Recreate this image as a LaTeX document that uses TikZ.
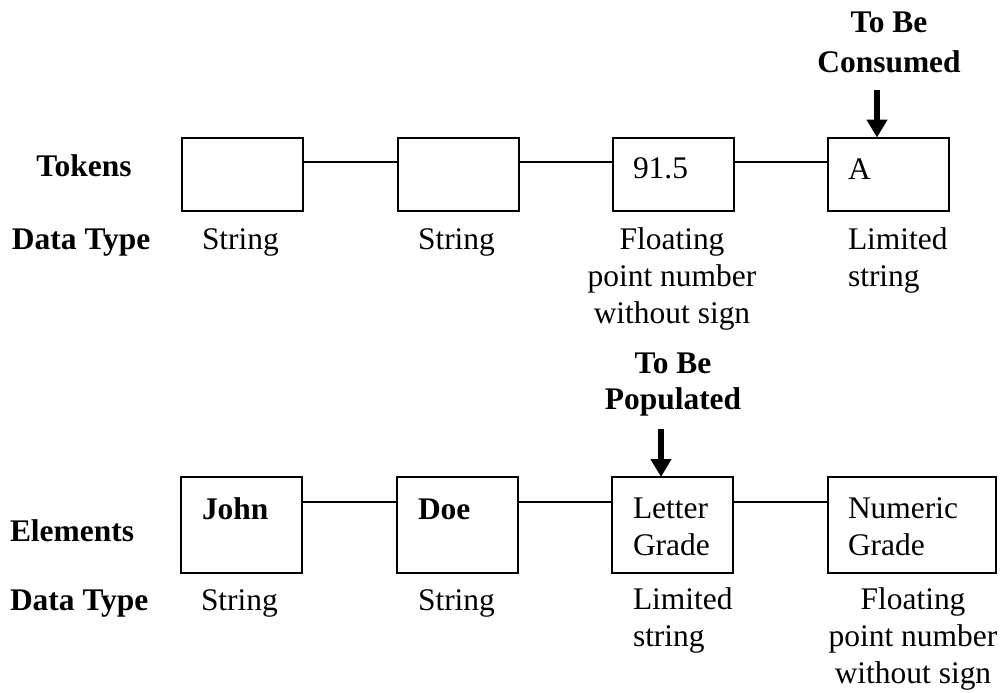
\documentclass[tikz,border=0pt]{standalone}
\usepackage{fontspec}
\setmainfont{Liberation Serif}
\usetikzlibrary{arrows.meta,calc}
\begin{document}
\begin{tikzpicture}[x=0.75pt,y=-0.75pt,
  every node/.style={inner sep=0pt,outer sep=0pt,font=\fontsize{23.6pt}{27.4pt}\selectfont},
  tbox/.style={draw,line width=1.5pt,minimum width=90.75pt,minimum height=54.75pt},
  ebox/.style={draw,line width=1.5pt,minimum width=90.75pt,minimum height=72pt},
  link/.style={line width=1.5pt},
  callarrow/.style={line width=4.2pt,-{Triangle[length=13.5pt,width=15pt]}},
  lbl/.style={anchor=base west,font=\fontsize{23.6pt}{27.4pt}\selectfont\bfseries},
  txt/.style={anchor=base west,align=left},
  ctxt/.style={anchor=base,align=center}]
\path[use as bounding box] (0,0) rectangle (1005,692);

% ---------- top row ----------
\node[tbox] (t1) at (242.5,174) {};
\node[tbox] (t2) at (458,174) {};
\node[tbox] (t3) at (673,174) {};
\node[tbox] (t4) at (888,174) {};
\foreach \a/\b in {t1/t2,t2/t3,t3/t4}
  \draw[link] ($(\a.north east)+(0,24.5)$) -- ($(\b.north west)+(0,24.5)$);

\node[txt] (t3txt) at (633,178) {91.5};
\node[txt] (t4txt) at (848,179) {A};

\node[lbl,anchor=base] (tokens) at (84,176) {Tokens};
\node[lbl] (dt1) at (12,249) {Data Type};
\node[txt] (ty1) at (202,249) {String};
\node[txt] (ty2) at (418,249) {String};
\node[ctxt] (ty3) at (672,323) {Floating\\point number\\without sign};
\node[txt] (ty4) at (848,286.5) {Limited\\string};

\node[lbl,anchor=base,font=\fontsize{23.6pt}{29.3pt}\selectfont\bfseries,align=center] (cons) at (889,72) {To Be\\Consumed};
\coordinate (a1) at (877,90);
\draw[callarrow] (a1) -- (a1 |- t4.north);

% ---------- bottom row ----------
\node[ebox] (e1) at (241.5,525) {};
\node[ebox] (e2) at (457,525) {};
\node[ebox] (e3) at (672.5,525) {};
\node[ebox,minimum width=126pt] (e4) at (912,525) {};
\foreach \a/\b in {e1/e2,e2/e3,e3/e4}
  \draw[link] ($(\a.north east)+(0,25)$) -- ($(\b.north west)+(0,25)$);

\node[txt,font=\fontsize{23.6pt}{27.4pt}\selectfont\bfseries] (e1txt) at (202,519) {John};
\node[txt,font=\fontsize{23.6pt}{27.4pt}\selectfont\bfseries] (e2txt) at (418,519) {Doe};
\node[txt] (e3txt) at (633,555) {Letter\\Grade};
\node[txt] (e4txt) at (848,555) {Numeric\\Grade};

\node[lbl] (elements) at (10,541) {Elements};
\node[lbl] (dt2) at (10,610) {Data Type};
\node[txt] (by1) at (201,610) {String};
\node[txt] (by2) at (418,610) {String};
\node[txt] (by3) at (633,646.5) {Limited\\string};
\node[ctxt] (by4) at (913,683) {Floating\\point number\\without sign};

\node[lbl,anchor=base,font=\fontsize{23.6pt}{27pt}\selectfont\bfseries,align=center] (pop) at (673,409) {To Be\\Populated};
\coordinate (a2) at (661,429);
\draw[callarrow] (a2) -- (a2 |- e3.north);
\end{tikzpicture}
\end{document}
